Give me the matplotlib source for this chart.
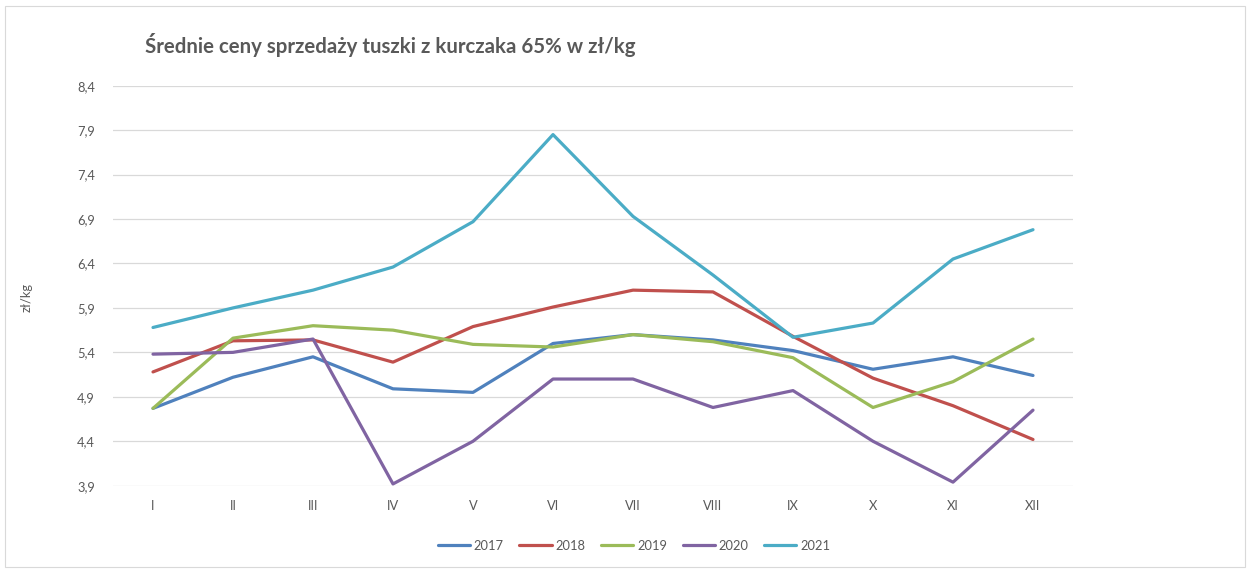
import matplotlib
matplotlib.use("Agg")
import matplotlib.pyplot as plt
import numpy as np
from matplotlib.patches import Rectangle

months = ["I", "II", "III", "IV", "V", "VI", "VII", "VIII", "IX", "X", "XI", "XII"]
y2017 = [4.77, 5.12, 5.35, 4.99, 4.95, 5.50, 5.60, 5.54, 5.42, 5.21, 5.35, 5.14]
y2018 = [5.18, 5.53, 5.54, 5.29, 5.69, 5.91, 6.10, 6.08, 5.58, 5.11, 4.80, 4.42]
y2019 = [4.77, 5.56, 5.70, 5.65, 5.49, 5.46, 5.60, 5.52, 5.34, 4.78, 5.07, 5.55]
y2020 = [5.38, 5.40, 5.55, 3.92, 4.40, 5.10, 5.10, 4.78, 4.97, 4.40, 3.94, 4.75]
y2021 = [5.68, 5.90, 6.10, 6.36, 6.87, 7.85, 6.93, 6.27, 5.57, 5.73, 6.45, 6.78]
series = [("2017", y2017, "#4F81BD"), ("2018", y2018, "#C0504D"),
          ("2019", y2019, "#9BBB59"), ("2020", y2020, "#8064A2"),
          ("2021", y2021, "#4BACC6")]
yticks = [3.9, 4.4, 4.9, 5.4, 5.9, 6.4, 6.9, 7.4, 7.9, 8.4]

plt.rcParams['font.family'] = ['Lato', 'DejaVu Sans']
W, H = 1251, 569
fig = plt.figure(figsize=(W / 100, H / 100), dpi=100)
fig.patches.append(Rectangle((5 / W, 2 / H), 1240 / W, 561 / H, transform=fig.transFigure,
                             fill=False, edgecolor="#D9D9D9", linewidth=0.8))

ax = fig.add_axes([113 / W, 83.3 / H, 960 / W, 400 / H])
x = np.arange(len(months))
for name, vals, col in series:
    ax.plot(x, vals, color=col, linewidth=2.3, label=name, solid_capstyle="round")

ax.set_xlim(-0.5, len(months) - 0.5)
ax.set_ylim(3.9, 8.4)
ax.set_yticks(yticks)
ax.set_yticklabels([f"{v:.1f}".replace(".", ",") for v in yticks])
ax.set_xticks(x)
ax.set_xticklabels(months)
ax.tick_params(length=0, labelsize=9.3, colors="#595959", pad=13)
ax.tick_params(axis="x", pad=10)
ax.grid(axis="y", color="#D9D9D9", linewidth=0.9)
ax.set_axisbelow(True)
for s in ax.spines.values():
    s.set_visible(False)

fig.text(27 / W, 1 - 298 / H, "zł/kg", rotation=90, ha="center", va="center",
         fontsize=9.3, color="#595959")
fig.text(145 / W, 1 - 45 / H, "Średnie ceny sprzedaży tuszki z kurczaka 65% w zł/kg",
         ha="left", va="center", fontsize=14.7, fontweight="bold", color="#595959")

leg = fig.legend(loc="center", bbox_to_anchor=(634 / W, 1 - 546 / H), ncol=5, frameon=False,
                 fontsize=9.3, handlelength=2.5, columnspacing=1.2, handletextpad=0.3,
                 labelcolor="#595959")

fig.savefig("out.png", dpi=100)
